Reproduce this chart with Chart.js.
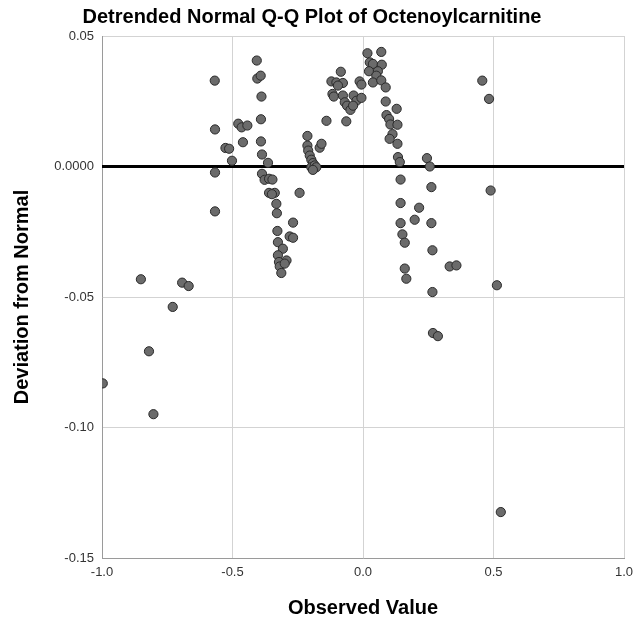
<!DOCTYPE html>
<html>
<head>
<meta charset="utf-8">
<script src="https://cdn.jsdelivr.net/npm/chart.js@4/dist/chart.umd.min.js"></script>
<style>
  html, body { margin: 0; padding: 0; background: #ffffff; }
  #wrap { width: 636px; height: 625px; position: relative; }
</style>
</head>
<body>
<div id="wrap"><canvas id="c" width="636" height="625"></canvas></div>
<script>
const chartTitle = "Detrended Normal Q-Q Plot of Octenoylcarnitine";
const xAxisTitle = "Observed Value";
const yAxisTitle = "Deviation from Normal";

const xTickValues = [-1.0, -0.5, 0.0, 0.5, 1.0];
const xTickLabels = ["-1.0", "-0.5", "0.0", "0.5", "1.0"];
const yTickValues = [0.05, 0.0, -0.05, -0.10, -0.15];
const yTickLabels = ["0.05", "0.0000", "-0.05", "-0.10", "-0.15"];

const referenceX = [-1.0, 1.0];
const referenceY = [0.0, 0.0];

const observedValues = [
  -0.997, -0.851, -0.820, -0.803, -0.729, -0.693, -0.668,
  -0.568, -0.567, -0.567, -0.567, -0.527, -0.513, -0.502, -0.478, -0.465, -0.443, -0.460,
  -0.407, -0.405, -0.392, -0.389, -0.391, -0.391, -0.387, -0.387, -0.364, -0.377, -0.360, -0.347,
  -0.360, -0.338, -0.332, -0.330, -0.328, -0.326, -0.307, -0.326, -0.293, -0.322, -0.319, -0.313,
  -0.281, -0.268, -0.268, -0.243, -0.349, -0.300,
  -0.213, -0.213, -0.210, -0.204, -0.198, -0.192, -0.198, -0.185, -0.179, -0.192, -0.166, -0.159, -0.140,
  -0.121, -0.102, -0.085, -0.077, -0.096, -0.117, -0.112, -0.077, -0.070, -0.061, -0.048, -0.064,
  -0.036, -0.025, -0.006, -0.013, -0.006, -0.038,
  0.017, 0.070, 0.026, 0.038, 0.072, 0.023, 0.057, 0.051, 0.038, 0.070, 0.087, 0.087, 0.129,
  0.090, 0.100, 0.105, 0.132, 0.113, 0.102, 0.132, 0.134, 0.141, 0.144, 0.144, 0.144, 0.151,
  0.160, 0.160, 0.166, 0.198, 0.215,
  0.245, 0.256, 0.262, 0.262, 0.266, 0.266, 0.268, 0.287, 0.332, 0.358,
  0.457, 0.483, 0.489, 0.513, 0.528
];
const deviations = [
  -0.0831, -0.0432, -0.0708, -0.0949, -0.0538, -0.0445, -0.0458,
  0.0329, 0.0142, -0.0023, -0.0172, 0.0071, 0.0068, 0.0022, 0.0164, 0.0150, 0.0157, 0.0093,
  0.0406, 0.0337, 0.0348, 0.0268, 0.0181, 0.0096, 0.0046, -0.0028, 0.0014, -0.0051, -0.0047, -0.0050,
  -0.0101, -0.0101, -0.0143, -0.0179, -0.0247, -0.0290, -0.0315, -0.0340, -0.0360, -0.0366, -0.0383, -0.0408,
  -0.0268, -0.0273, -0.0215, -0.0101, -0.0106, -0.0372,
  0.0117, 0.0080, 0.0061, 0.0042, 0.0026, 0.0013, -0.0003, 0.0004, -0.0003, -0.0013, 0.0072, 0.0087, 0.0175,
  0.0326, 0.0322, 0.0363, 0.0320, 0.0310, 0.0278, 0.0268, 0.0272, 0.0246, 0.0233, 0.0217, 0.0173,
  0.0272, 0.0252, 0.0263, 0.0326, 0.0314, 0.0233,
  0.0434, 0.0439, 0.0399, 0.0393, 0.0390, 0.0365, 0.0365, 0.0348, 0.0322, 0.0330, 0.0303, 0.0249, 0.0221,
  0.0197, 0.0182, 0.0161, 0.0160, 0.0124, 0.0106, 0.0087, 0.0036, 0.0017, -0.0050, -0.0140, -0.0217, -0.0260,
  -0.0292, -0.0391, -0.0430, -0.0204, -0.0158,
  0.0032, 0.0000, -0.0079, -0.0217, -0.0321, -0.0481, -0.0638, -0.0650, -0.0383, -0.0379,
  0.0329, 0.0259, -0.0092, -0.0455, -0.1324
];

const pointData = observedValues.map((x, i) => ({ x: x, y: deviations[i] }));
const refData = referenceX.map((x, i) => ({ x: x, y: referenceY[i] }));

const FONT = "'Liberation Sans', Arial, sans-serif";

new Chart(document.getElementById('c'), {
  type: 'scatter',
  data: {
    datasets: [
      {
        type: 'line',
        data: refData,
        borderColor: '#000000',
        borderWidth: 3,
        pointRadius: 0,
        showLine: true,
        fill: false,
        order: 2,
        clip: 0
      },
      {
        data: pointData,
        backgroundColor: '#6b6b6b',
        borderColor: '#2a2a2a',
        borderWidth: 1,
        pointRadius: 4.6,
        order: 1,
        clip: 0
      }
    ]
  },
  options: {
    responsive: false,
    animation: false,
    devicePixelRatio: 1,
    layout: { padding: { top: 0, right: 12, bottom: 0, left: 0 } },
    plugins: {
      legend: { display: false },
      tooltip: { enabled: false },
      title: {
        display: true,
        text: chartTitle,
        color: '#000000',
        font: { family: FONT, size: 20, weight: 'bold' },
        padding: { top: 5, bottom: 7 }
      }
    },
    scales: {
      x: {
        type: 'linear',
        min: -1, max: 1,
        afterBuildTicks: (s) => { s.ticks = xTickValues.map(v => ({ value: v })); },
        afterFit: (s) => { s.height = 67; s.paddingRight = 0; s.paddingLeft = 0; },
        ticks: {
          callback: (v, i) => xTickLabels[i],
          color: '#333333',
          font: { family: FONT, size: 13 },
          padding: 7,
          maxRotation: 0
        },
        grid: { color: '#d3d3d3', lineWidth: 1, drawTicks: false },
        border: { color: '#9a9a9a', width: 1 },
        title: {
          display: true,
          text: xAxisTitle,
          color: '#000000',
          font: { family: FONT, size: 20, weight: 'bold' },
          padding: { top: 0, bottom: 5 }
        }
      },
      y: {
        type: 'linear',
        min: -0.15, max: 0.05,
        afterBuildTicks: (s) => { s.ticks = yTickValues.slice().reverse().map(v => ({ value: v })); },
        afterFit: (s) => { s.width = 102; },
        ticks: {
          callback: (v) => {
            const idx = yTickValues.findIndex(t => Math.abs(t - v) < 1e-9);
            return yTickLabels[idx];
          },
          color: '#333333',
          font: { family: FONT, size: 13 },
          padding: 8
        },
        grid: { color: '#d3d3d3', lineWidth: 1, drawTicks: false },
        border: { color: '#9a9a9a', width: 1 },
        title: {
          display: true,
          text: yAxisTitle,
          color: '#000000',
          font: { family: FONT, size: 20, weight: 'bold' },
          padding: { top: 10, bottom: 0 }
        }
      }
    }
  }
});
</script>
</body>
</html>
